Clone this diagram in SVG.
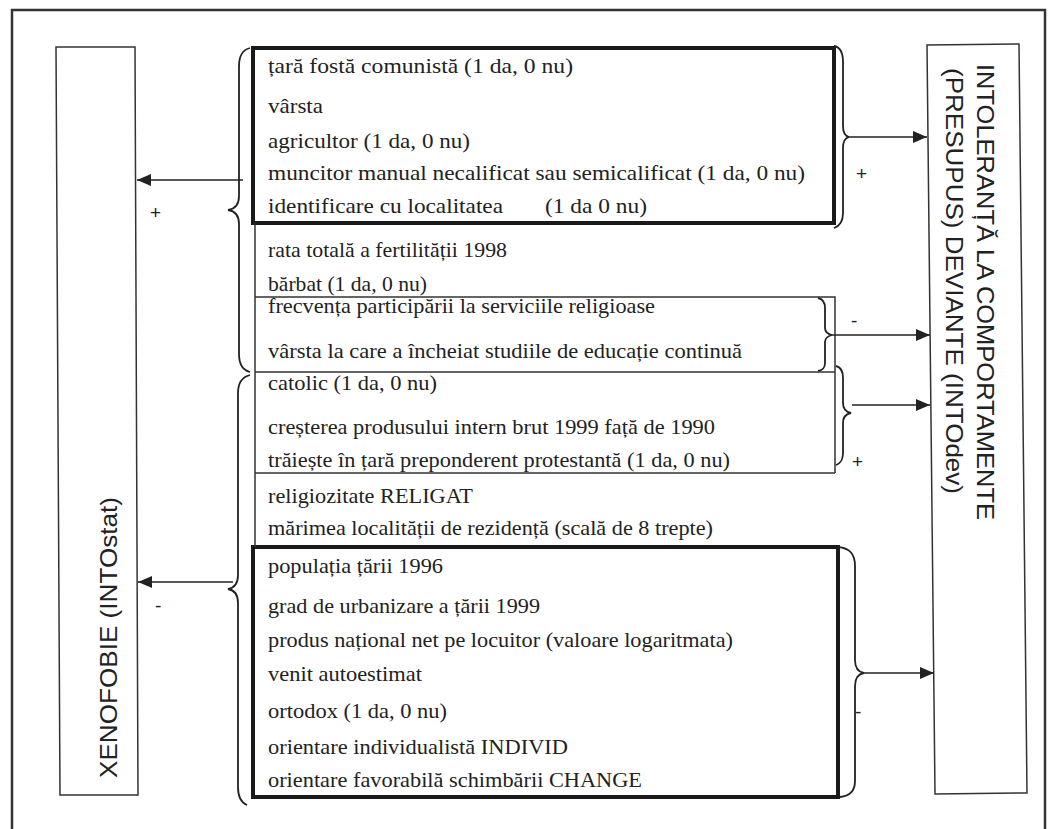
<svg xmlns="http://www.w3.org/2000/svg" width="1050" height="829" viewBox="0 0 1050 829">
<style>
.t{font-family:"Liberation Serif","Times New Roman",serif;font-size:21px;fill:#222}
.s{font-family:"Liberation Sans",Arial,sans-serif;font-size:24px;fill:#222}
.lbl{font-family:"Liberation Sans",Arial,sans-serif;font-size:19px;fill:#222;stroke:none}
.thin{fill:none;stroke:#333;stroke-width:1.5}
.thick{fill:none;stroke:#1a1a1a;stroke-width:4}
.br{fill:none;stroke:#222;stroke-width:1.8}
.ar{fill:none;stroke:#222;stroke-width:1.6}
</style>
<defs>
<marker id="ah" markerUnits="userSpaceOnUse" markerWidth="14" markerHeight="12" refX="14" refY="6" orient="auto">
<path d="M0,0 L14,6 L0,12 Z" fill="#222"/>
</marker>
</defs>
<rect width="1050" height="829" fill="#fff"/>
<path d="M12,835 L12,10 L1045,10 L1045,835" fill="none" stroke="#333" stroke-width="2.5"/>

<g id="xenofobie">
<polygon points="56,47 135,47 138,795 60,795" class="thin"/>
<text class="s" transform="translate(117,778) rotate(-90)" textLength="281" lengthAdjust="spacingAndGlyphs">XENOFOBIE  (INTOstat)</text>
</g>

<g id="intodev">
<polygon points="927,45 1019,44 1027,793 935,794" class="thin"/>
<text class="s" transform="translate(977,64) rotate(90)" textLength="456" lengthAdjust="spacingAndGlyphs">INTOLERANȚĂ LA COMPORTAMENTE</text>
<text class="s" transform="translate(946,68) rotate(90)" textLength="426" lengthAdjust="spacingAndGlyphs">(PRESUPUS) DEVIANTE (INTOdev)</text>
</g>

<g id="variabile">
<rect x="253" y="48" width="581" height="175" class="thick"/>
<rect x="253" y="547" width="585" height="250" class="thick"/>
<path d="M255,223 L255,547 M255,297 L835,297 L835,473 M255,372 L835,372 M255,473 L835,473" class="thin"/>
<text class="t" x="268" y="73" textLength="305" lengthAdjust="spacingAndGlyphs">țară fostă comunistă  (1 da, 0 nu)</text>
<text class="t" x="268" y="113" textLength="55" lengthAdjust="spacingAndGlyphs">vârsta</text>
<text class="t" x="268" y="148" textLength="202" lengthAdjust="spacingAndGlyphs">agricultor (1 da, 0 nu)</text>
<text class="t" x="268" y="180" textLength="537" lengthAdjust="spacingAndGlyphs">muncitor manual necalificat sau semicalificat (1 da, 0 nu)</text>
<text class="t" x="268" y="213"><tspan textLength="235" lengthAdjust="spacingAndGlyphs">identificare cu localitatea</tspan><tspan x="545" textLength="102" lengthAdjust="spacingAndGlyphs">(1 da 0 nu)</tspan></text>
<text class="t" x="268" y="257" textLength="239" lengthAdjust="spacingAndGlyphs">rata totală a fertilității 1998</text>
<text class="t" x="268" y="291" textLength="159" lengthAdjust="spacingAndGlyphs">bărbat (1 da, 0 nu)</text>
<text class="t" x="268" y="313" textLength="387" lengthAdjust="spacingAndGlyphs">frecvența participării la serviciile religioase</text>
<text class="t" x="268" y="358" textLength="474" lengthAdjust="spacingAndGlyphs">vârsta la care a încheiat studiile de educație continuă</text>
<text class="t" x="268" y="390" textLength="169" lengthAdjust="spacingAndGlyphs">catolic (1 da, 0 nu)</text>
<text class="t" x="268" y="434" textLength="447" lengthAdjust="spacingAndGlyphs">creșterea produsului intern brut  1999 față de 1990</text>
<text class="t" x="268" y="467" textLength="462" lengthAdjust="spacingAndGlyphs">trăiește în țară preponderent protestantă (1 da, 0 nu)</text>
<text class="t" x="268" y="503" textLength="205" lengthAdjust="spacingAndGlyphs">religiozitate RELIGAT</text>
<text class="t" x="268" y="535" textLength="445" lengthAdjust="spacingAndGlyphs">mărimea localității de rezidență (scală de 8 trepte)</text>
<text class="t" x="268" y="573" textLength="175" lengthAdjust="spacingAndGlyphs">populația țării 1996</text>
<text class="t" x="268" y="613" textLength="272" lengthAdjust="spacingAndGlyphs">grad de urbanizare a țării 1999</text>
<text class="t" x="268" y="647" textLength="465" lengthAdjust="spacingAndGlyphs">produs național net pe locuitor (valoare logaritmata)</text>
<text class="t" x="268" y="681" textLength="154" lengthAdjust="spacingAndGlyphs">venit autoestimat</text>
<text class="t" x="268" y="718" textLength="179" lengthAdjust="spacingAndGlyphs">ortodox (1 da, 0 nu)</text>
<text class="t" x="268" y="754" textLength="300" lengthAdjust="spacingAndGlyphs">orientare individualistă INDIVID</text>
<text class="t" x="268" y="787" textLength="374" lengthAdjust="spacingAndGlyphs">orientare favorabilă schimbării CHANGE</text>
</g>

<g id="connectors">
<path class="br" d="M250,48 C242,50 239,56 239,66 L239,196 C239,205 235,209 228,210 C235,211 239,215 239,224 L239,354 C239,364 242,370 250,372"/>
<path class="br" d="M250,375 C242,377 238,383 238,393 L238,575 C238,584 234,588 228,589 C234,590 238,594 238,603 L238,787 C238,797 242,803 247,805"/>
<path class="br" d="M834,46 C840,47 843,52 843,62 L843,126 C843,133 845,136 849,137 C845,138 843,141 843,148 L843,213 C843,222 840,226 834,228"/>
<path class="br" d="M818,298 C823,299 825,302 825,308 L825,328 C825,332 828,334 832,335 C828,336 825,338 825,342 L825,363 C825,368 823,370 818,371"/>
<path class="br" d="M836,366 C841,367 843,371 843,378 L843,403 C843,409 846,412 851,413 C846,414 843,417 843,423 L843,453 C843,460 841,463 836,465"/>
<path class="br" d="M838,547 C850,548 855,554 855,566 L855,660 C855,668 858,672 864,673 C858,674 855,678 855,686 L855,781 C855,791 850,796 840,797"/>
<line class="ar" x1="243" y1="180" x2="137" y2="180" marker-end="url(#ah)"/>
<line class="ar" x1="233" y1="582" x2="138" y2="582" marker-end="url(#ah)"/>
<line class="ar" x1="849" y1="137" x2="927" y2="137" marker-end="url(#ah)"/>
<line class="ar" x1="832" y1="335" x2="930" y2="335" marker-end="url(#ah)"/>
<line class="ar" x1="852" y1="405" x2="930" y2="405" marker-end="url(#ah)"/>
<line class="ar" x1="864" y1="673" x2="934" y2="673" marker-end="url(#ah)"/>
<text class="lbl" x="150" y="219">+</text>
<text class="lbl" x="155" y="612">-</text>
<text class="lbl" x="856" y="180">+</text>
<text class="lbl" x="851" y="327">-</text>
<text class="lbl" x="852" y="468">+</text>
<text class="lbl" x="855" y="718">-</text>
</g>
</svg>
